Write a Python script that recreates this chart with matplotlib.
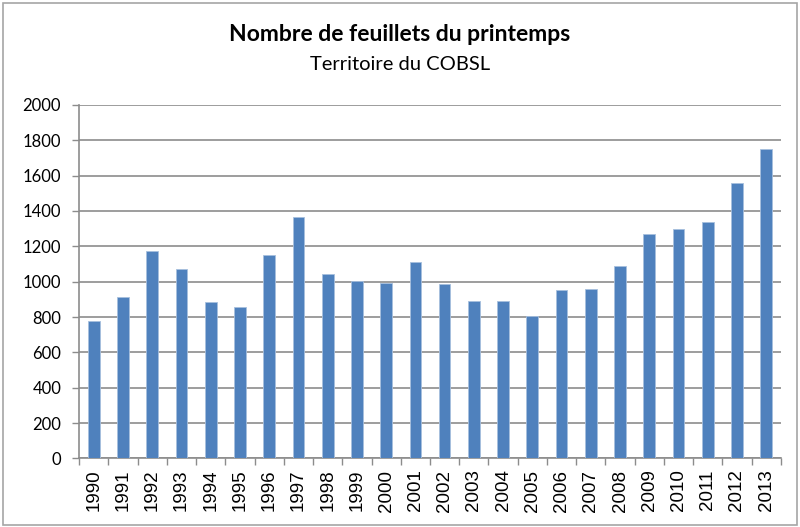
import numpy as np
import matplotlib.pyplot as plt
from matplotlib.patches import Rectangle

years = [str(y) for y in range(1990, 2014)]
values = [778, 916, 1173, 1071, 884, 855, 1150, 1365, 1042, 1003, 995, 1114,
          986, 889, 889, 806, 953, 959, 1091, 1269, 1297, 1337, 1556, 1752]

fig = plt.figure(figsize=(8.0, 5.27), dpi=100)
ax = fig.add_axes([0.099, 0.130, 0.877, 0.671])

x = np.arange(len(years))
ax.bar(x, values, width=0.4, color='#4F81BD', edgecolor='#A7C0DE', linewidth=0.6, zorder=3)

ax.set_xlim(-0.5, len(years) - 0.5)
ax.set_ylim(0, 2000)
ax.set_yticks(range(0, 2001, 200))
ax.yaxis.grid(True, color='#8C8C8C', linewidth=1.2, zorder=0)

ax.set_xticks(x)
ax.set_xticklabels(years, rotation=90, fontsize=13.5, family='Liberation Sans')
ax.set_xticks(np.arange(-0.5, len(years), 1.0), minor=True)
ax.tick_params(axis='x', which='major', length=0, pad=8)
ax.tick_params(axis='x', which='minor', length=5, color='#8C8C8C', width=1)
ax.tick_params(axis='y', length=5, color='#8C8C8C', width=1, labelsize=12, pad=8)
for lab in ax.get_yticklabels():
    lab.set_family('Lato')

for side in ['top', 'right']:
    ax.spines[side].set_visible(False)
for side in ['left', 'bottom']:
    ax.spines[side].set_color('#8C8C8C')
    ax.spines[side].set_linewidth(1.2)

fig.text(0.5, 0.934, 'Nombre de feuillets du printemps', ha='center', va='center',
         fontsize=16.5, fontweight='bold', family='Lato')
fig.text(0.5, 0.877, 'Territoire du COBSL', ha='center', va='center',
         fontsize=14.5, family='Lato')

fig.patches.append(Rectangle((0.004, 0.004), 0.992, 0.99, transform=fig.transFigure,
                             fill=False, edgecolor='#A6A6A6', linewidth=1.2))

fig.savefig('out.png', dpi=100)
